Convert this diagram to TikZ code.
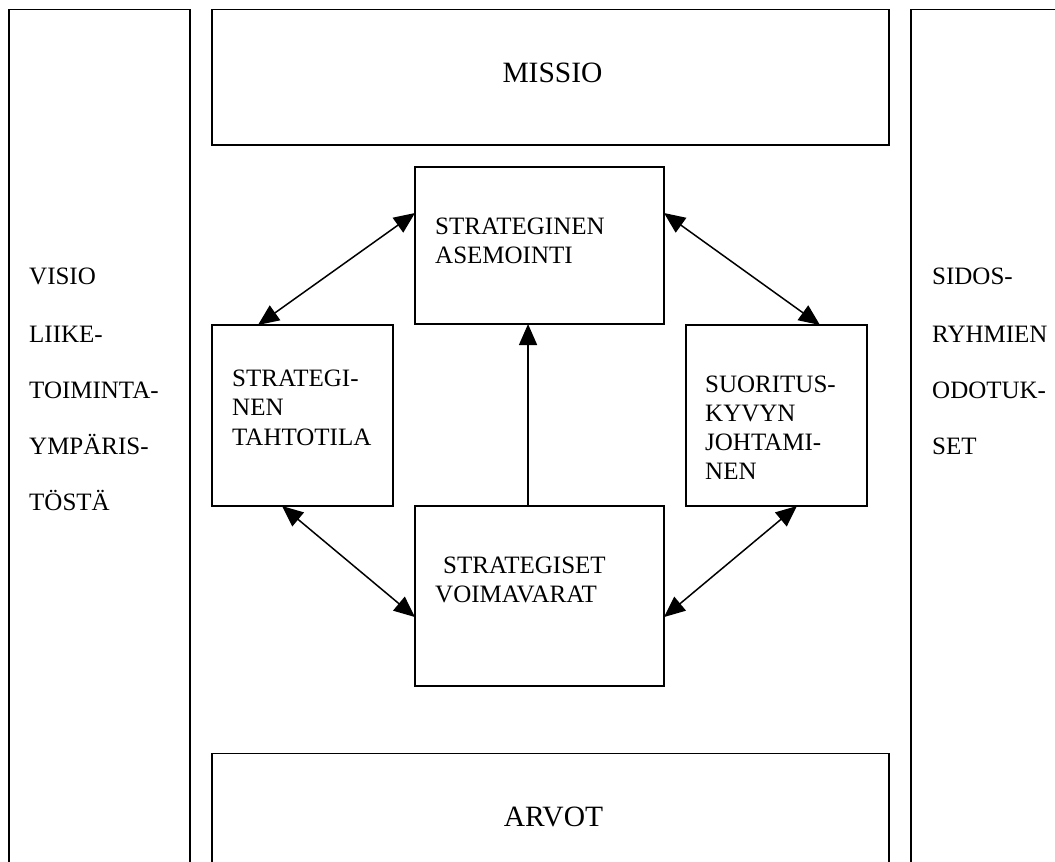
\documentclass[tikz,border=0pt]{standalone}
\usepackage{fontspec}
\setmainfont{Liberation Serif}
\usetikzlibrary{arrows.meta,calc}
\tikzset{
  box/.style={draw=black, line width=1.6pt, rectangle, inner sep=0pt, outer sep=0pt},
  small/.style={inner sep=0pt, anchor=base west, font=\fontsize{25}{29}\selectfont},
  big/.style={inner sep=0pt, anchor=base, font=\fontsize{29.5}{34}\selectfont},
  biarrow/.style={line width=1.5pt, {Triangle[length=21pt,width=18pt]}-{Triangle[length=21pt,width=18pt]}},
  uniarrow/.style={line width=1.5pt, -{Triangle[length=21pt,width=18pt]}}
}
\begin{document}
\begin{tikzpicture}[x=1pt,y=-1pt]
\useasboundingbox (0,0) rectangle (1055,862);
\clip (0,0) rectangle (1055,862);
% frame boxes
\node[box, minimum width=181pt, minimum height=890.5pt] (left) at (99.5,454.75) {};
\node[box, minimum width=189pt, minimum height=890.5pt] (right) at (1005.5,454.75) {};
\node[box, minimum width=677pt, minimum height=135.5pt] (missio) at (550.5,77.25) {};
\node[box, minimum width=677pt, minimum height=146.5pt] (arvot) at (550.5,826.75) {};
% inner boxes
\node[box, minimum width=249pt, minimum height=157pt] (asem) at (539.5,245.5) {};
\node[box, minimum width=181pt, minimum height=181pt] (tahto) at (302.5,415.5) {};
\node[box, minimum width=181pt, minimum height=181pt] (suor) at (776.5,415.5) {};
\node[box, minimum width=249pt, minimum height=180pt] (voim) at (539.5,596) {};
% texts
\node[big] (tmissio) at (552.5,82) {MISSIO};
\node[big] (tarvot) at (553.5,826) {ARVOT};
\node[small] (l1) at (29,284) {VISIO};
\node[small] (l2) at (29,342) {LIIKE-};
\node[small] (l3) at (29,398) {TOIMINTA-};
\node[small] (l4) at (29,454) {YMPÄRIS-};
\node[small] (l5) at (29,510) {TÖSTÄ};
\node[small] (r1) at (932,284) {SIDOS-};
\node[small] (r2) at (932,342) {RYHMIEN};
\node[small] (r3) at (932,398) {ODOTUK-};
\node[small] (r4) at (932,454) {SET};
\node[small] (a1) at (435,234) {STRATEGINEN};
\node[small] (a2) at (435,263) {ASEMOINTI};
\node[small] (t1) at (232,386) {STRATEGI-};
\node[small] (t2) at (232,415) {NEN};
\node[small] (t3) at (232,445) {TAHTOTILA};
\node[small] (s1) at (705,392) {SUORITUS-};
\node[small] (s2) at (705,421) {KYVYN};
\node[small] (s3) at (705,450) {JOHTAMI-};
\node[small] (s4) at (705,479) {NEN};
\node[small] (v1) at (443,573) {STRATEGISET};
\node[small] (v2) at (435,602) {VOIMAVARAT};
% connectors
\draw[biarrow] ($(asem.north west)!0.293!(asem.south west)$) -- ($(tahto.north west)!0.254!(tahto.north east)$);
\draw[biarrow] ($(asem.north east)!0.293!(asem.south east)$) -- ($(suor.north west)!0.74!(suor.north east)$);
\draw[biarrow] ($(tahto.south west)!0.387!(tahto.south east)$) -- ($(voim.north west)!0.617!(voim.south west)$);
\draw[biarrow] ($(suor.south west)!0.613!(suor.south east)$) -- ($(voim.north east)!0.617!(voim.south east)$);
\draw[uniarrow] ($(voim.north west)!0.454!(voim.north east)$) -- ($(asem.south west)!0.454!(asem.south east)$);
\end{tikzpicture}
\end{document}
